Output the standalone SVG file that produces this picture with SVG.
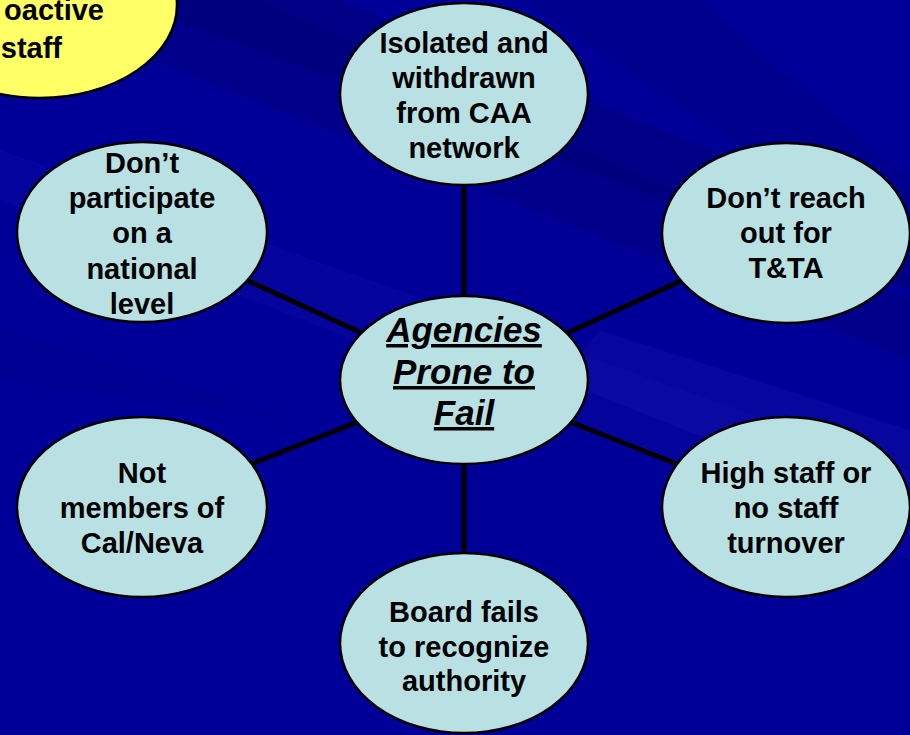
<svg xmlns="http://www.w3.org/2000/svg" width="910" height="735" viewBox="0 0 910 735">
  <defs>
    <style>
      .bubble { fill: #B9E0E3; stroke: #000; stroke-width: 2.5; }
      .yellow { fill: #FFFF66; stroke: #000; stroke-width: 2.5; }
      .lbl { font-family: "Liberation Sans", Arial, sans-serif; font-weight: bold; font-size: 29px; fill: #000; text-anchor: middle; }
      .lbl-end { font-family: "Liberation Sans", Arial, sans-serif; font-weight: bold; font-size: 29px; fill: #000; text-anchor: end; }
      .ctr { font-family: "Liberation Sans", Arial, sans-serif; font-weight: bold; font-style: italic; font-size: 35px; fill: #000; text-anchor: middle; text-decoration: underline; }
      .conn { stroke: #000; stroke-width: 5; }
    </style>
  </defs>
  <!-- background -->
  <rect x="0" y="0" width="910" height="735" fill="#000099"/>
  <g id="streaks">
    <polygon points="0,0 260,0 910,300 910,360" fill="#000070" opacity="0.35"/>
    <polygon points="120,0 340,0 910,230 910,290" fill="#000066" opacity="0.35"/>
    <polygon points="0,150 0,200 910,560 910,470" fill="#1515B0" opacity="0.25"/>
    <polygon points="520,0 700,0 910,180 910,260" fill="#00007A" opacity="0.35"/>
    <polygon points="600,330 910,430 910,520 560,380" fill="#2020B8" opacity="0.22"/>
    <polygon points="0,330 300,420 0,380" fill="#00007A" opacity="0.2"/>
  </g>
  <g id="yellow-node">
    <ellipse class="yellow" cx="40" cy="5" rx="137" ry="93"/>
    <text class="lbl-end" x="104" y="20">oactive</text>
    <text class="lbl-end" x="62" y="58">staff</text>
  </g>
  <g id="connectors">
    <line class="conn" x1="464" y1="380" x2="464" y2="94"/>
    <line class="conn" x1="464" y1="380" x2="464" y2="643"/>
    <line class="conn" x1="464" y1="380" x2="142" y2="232"/>
    <line class="conn" x1="464" y1="380" x2="786" y2="233"/>
    <line class="conn" x1="464" y1="380" x2="142" y2="507"/>
    <line class="conn" x1="464" y1="380" x2="786" y2="507"/>
  </g>
  <g id="node-isolated">
    <ellipse class="bubble" cx="464" cy="94" rx="124" ry="91"/>
    <text class="lbl" x="464" y="53">Isolated and</text>
    <text class="lbl" x="464" y="88">withdrawn</text>
    <text class="lbl" x="464" y="123">from CAA</text>
    <text class="lbl" x="464" y="158">network</text>
  </g>
  <g id="node-participate">
    <ellipse class="bubble" cx="142" cy="232" rx="125" ry="90"/>
    <text class="lbl" x="142" y="173">Don’t</text>
    <text class="lbl" x="142" y="208">participate</text>
    <text class="lbl" x="142" y="243">on a</text>
    <text class="lbl" x="142" y="279">national</text>
    <text class="lbl" x="142" y="314">level</text>
  </g>
  <g id="node-reach">
    <ellipse class="bubble" cx="786" cy="233" rx="124" ry="90"/>
    <text class="lbl" x="786" y="208">Don’t reach</text>
    <text class="lbl" x="786" y="243">out for</text>
    <text class="lbl" x="786" y="278">T&amp;TA</text>
  </g>
  <g id="node-center">
    <ellipse class="bubble" cx="464" cy="380" rx="124" ry="84"/>
    <text class="ctr" x="464" y="342">Agencies</text>
    <text class="ctr" x="464" y="384">Prone to</text>
    <text class="ctr" x="464" y="425">Fail</text>
  </g>
  <g id="node-members">
    <ellipse class="bubble" cx="142" cy="507" rx="125" ry="90"/>
    <text class="lbl" x="142" y="483">Not</text>
    <text class="lbl" x="142" y="518">members of</text>
    <text class="lbl" x="142" y="553">Cal/Neva</text>
  </g>
  <g id="node-staff">
    <ellipse class="bubble" cx="786" cy="507" rx="124" ry="90"/>
    <text class="lbl" x="786" y="483">High staff or</text>
    <text class="lbl" x="786" y="518">no staff</text>
    <text class="lbl" x="786" y="553">turnover</text>
  </g>
  <g id="node-board">
    <ellipse class="bubble" cx="464" cy="643" rx="124" ry="90"/>
    <text class="lbl" x="464" y="622">Board fails</text>
    <text class="lbl" x="464" y="657">to recognize</text>
    <text class="lbl" x="464" y="691">authority</text>
  </g>
</svg>
